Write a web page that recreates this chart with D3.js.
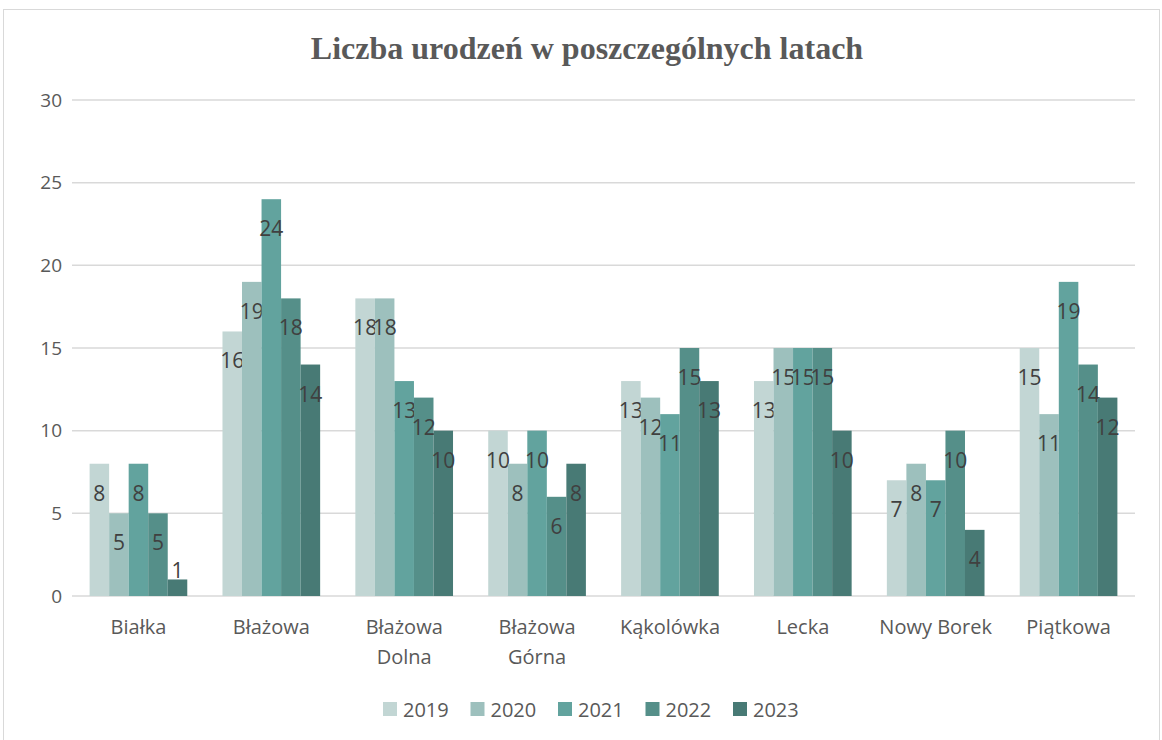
<!DOCTYPE html>
<html>
<head>
<meta charset="utf-8">
<script src="https://cdn.jsdelivr.net/npm/d3@7"></script>
<style>
  body { margin: 0; background: #fff; }
  text { font-family: "Open Sans", "Noto Sans", sans-serif; }
</style>
</head>
<body>
<script>
// data
var villages = ["Białka", "Błażowa", "Błażowa Dolna", "Błażowa Górna", "Kąkolówka", "Lecka", "Nowy Borek", "Piątkowa"];
var years = ["2019", "2020", "2021", "2022", "2023"];
var births2019 = [8, 16, 18, 10, 13, 13, 7, 15];
var births2020 = [5, 19, 18, 8, 12, 15, 8, 11];
var births2021 = [8, 24, 13, 10, 11, 15, 7, 19];
var births2022 = [5, 18, 12, 6, 15, 15, 10, 14];
var births2023 = [1, 14, 10, 8, 13, 10, 4, 12];
var yTicks = [0, 5, 10, 15, 20, 25, 30];

var series = [births2019, births2020, births2021, births2022, births2023];
var colors = ["#c2d6d4", "#9dc0bd", "#62a39e", "#558f89", "#487a75"];

var totalWidth = 1162, totalHeight = 740;
var margin = {top: 100, right: 27, bottom: 144, left: 72};
var width = totalWidth - margin.left - margin.right;
var height = totalHeight - margin.top - margin.bottom;

var svg = d3.select("body").append("svg")
    .attr("width", totalWidth)
    .attr("height", totalHeight);

// chart frame
svg.append("rect")
    .attr("x", 3.5).attr("y", 9.5)
    .attr("width", 1156).attr("height", 740)
    .attr("fill", "#fff")
    .attr("stroke", "#d9d9d9");

svg.append("text")
    .attr("x", 587).attr("y", 59)
    .attr("text-anchor", "middle")
    .style("font-family", "'Liberation Serif', 'DejaVu Serif', serif")
    .style("font-weight", "bold")
    .style("font-size", "32px")
    .style("fill", "#595959")
    .text("Liczba urodzeń w poszczególnych latach");

var g = svg.append("g")
    .attr("transform", "translate(" + margin.left + "," + margin.top + ")");

var x0 = d3.scaleBand().domain(villages).range([0, width]).paddingInner(0.265).paddingOuter(0.1325);
var x1 = d3.scaleBand().domain(years).range([0, x0.bandwidth()]);
var y = d3.scaleLinear().domain([0, 30]).range([height, 0]);

// gridlines
g.selectAll(".grid")
    .data(yTicks)
    .enter().append("line")
    .attr("x1", 0).attr("x2", width)
    .attr("y1", function(d) { return y(d); })
    .attr("y2", function(d) { return y(d); })
    .attr("stroke", "#d9d9d9")
    .attr("stroke-width", 1.5);

// y axis labels
var yAxis = g.append("g")
    .call(d3.axisLeft(y).tickValues(yTicks).tickSize(0).tickPadding(10));
yAxis.select(".domain").remove();
yAxis.selectAll("text")
    .attr("x", -10)
    .style("font-size", "19px")
    .style("fill", "#595959")
    .style("font-family", "'Open Sans', 'Noto Sans', sans-serif");

// bars
var groups = g.selectAll(".village")
    .data(villages)
    .enter().append("g")
    .attr("transform", function(d) { return "translate(" + x0(d) + ",0)"; });

years.forEach(function(yr, s) {
    groups.append("rect")
        .attr("x", x1(yr))
        .attr("y", function(d, i) { return y(series[s][i]); })
        .attr("width", x1.bandwidth())
        .attr("height", function(d, i) { return height - y(series[s][i]); })
        .attr("fill", colors[s]);

    // label inside the bar end, above it when the bar is too short
    groups.append("text")
        .attr("x", x1(yr) + x1.bandwidth() / 2)
        .attr("y", function(d, i) {
            var top = y(series[s][i]);
            return (height - top) < 40 ? top - 1 : top + 37;
        })
        .attr("text-anchor", "middle")
        .style("font-size", "21px")
        .style("fill", "#404040")
        .text(function(d, i) { return series[s][i]; });
});

// x axis labels
var xAxis = g.append("g")
    .attr("transform", "translate(0," + height + ")")
    .call(d3.axisBottom(x0).tickSize(0).tickPadding(0));
xAxis.select(".domain").remove();
xAxis.selectAll("text").remove();
xAxis.selectAll(".tick").each(function(d) {
    var parts = d.indexOf("Błażowa ") === 0 ? d.split(" ") : [d];
    var t = d3.select(this).append("text")
        .attr("text-anchor", "middle")
        .style("font-size", "20px")
        .style("fill", "#595959");
    parts.forEach(function(p, k) {
        t.append("tspan").attr("x", 0).attr("y", 38 + k * 30).text(p);
    });
});

// legend
var legend = svg.selectAll(".legend")
    .data(years)
    .enter().append("g")
    .attr("transform", function(d, i) { return "translate(" + (383 + i * 87.5) + ",702)"; });

legend.append("rect")
    .attr("width", 14).attr("height", 14)
    .attr("fill", function(d, i) { return colors[i]; });

legend.append("text")
    .attr("x", 20).attr("y", 15)
    .style("font-size", "20px")
    .style("fill", "#595959")
    .text(function(d) { return d; });
</script>
</body>
</html>
